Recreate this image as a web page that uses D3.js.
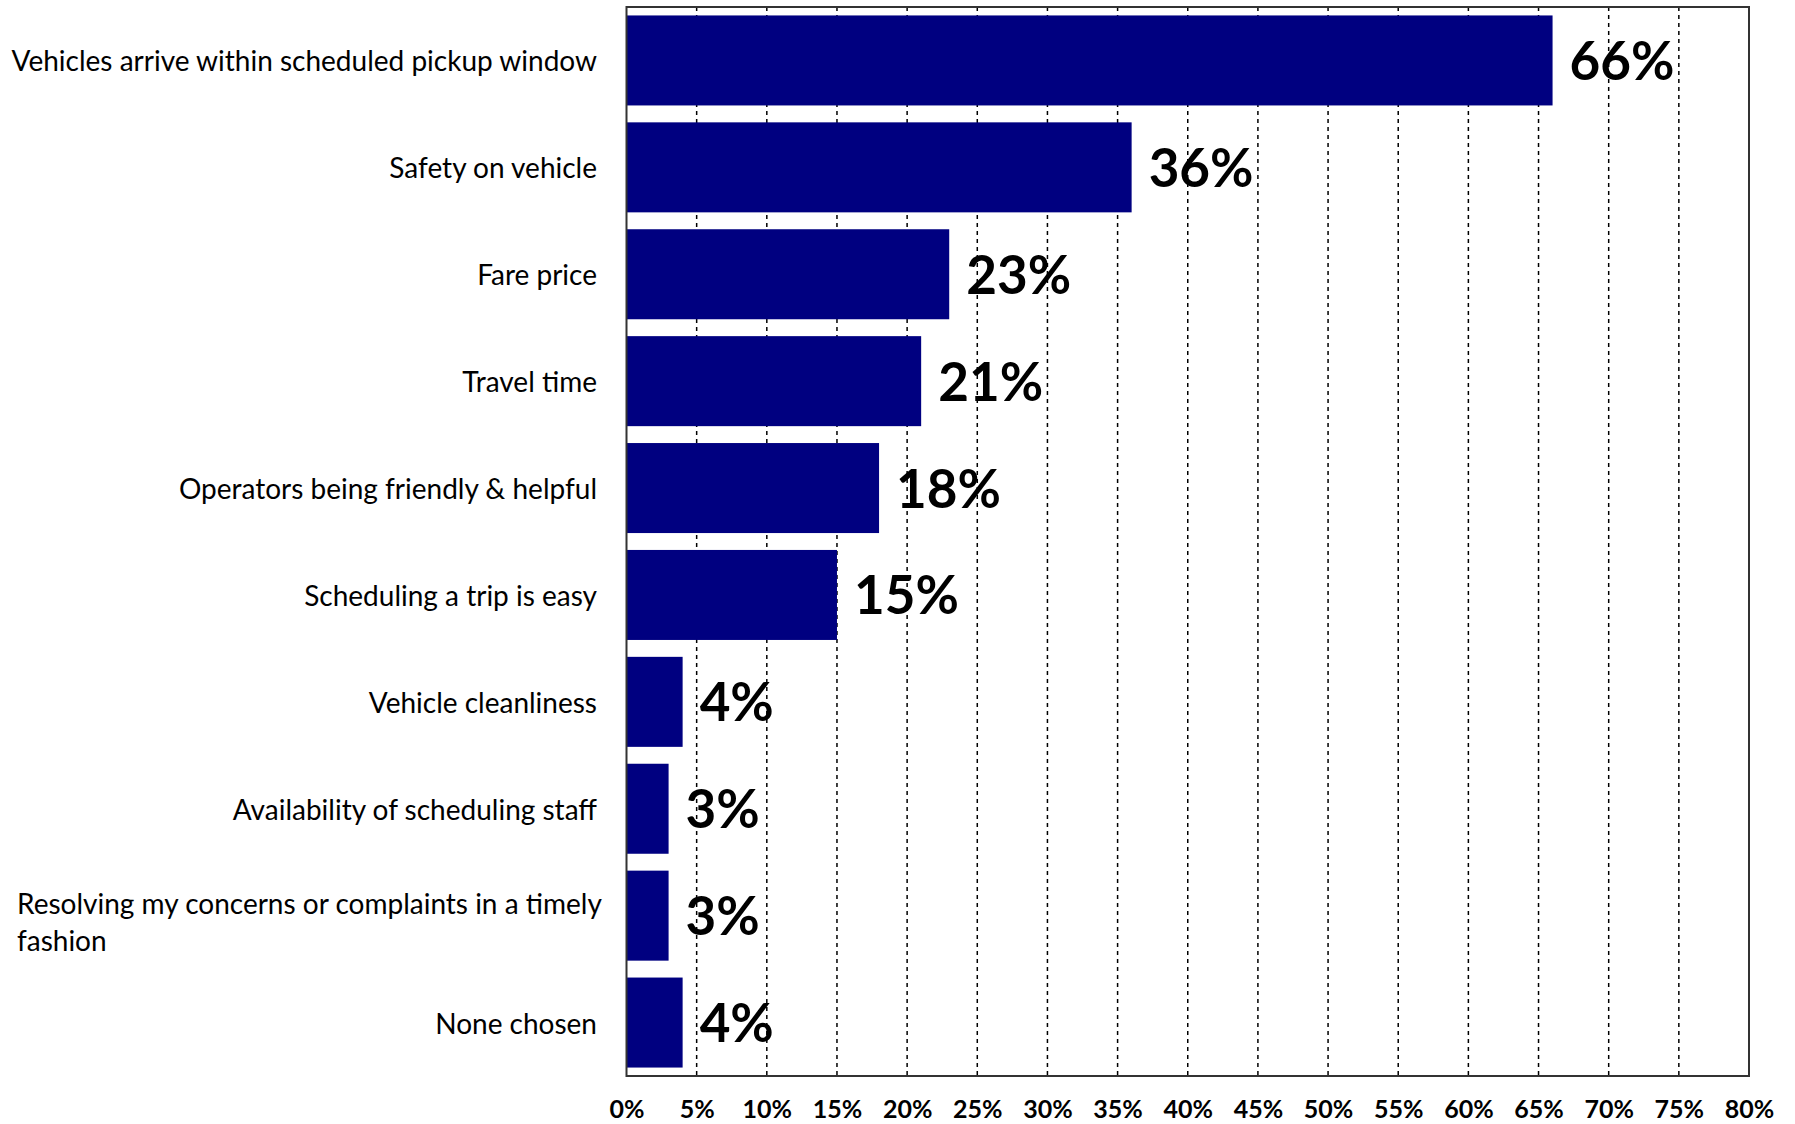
<!DOCTYPE html>
<html>
<head>
<meta charset="utf-8">
<script src="https://cdn.jsdelivr.net/npm/d3@7"></script>
<style>
  html, body { margin: 0; padding: 0; background: #ffffff; }
  svg { display: block; }
  text { font-family: Lato, "Open Sans", "Noto Sans", sans-serif; fill: #000; }
</style>
</head>
<body>
<svg id="chart" width="1795" height="1124"></svg>
<script>
// Service attributes ranked as most important
const categories = [
  "Vehicles arrive within scheduled pickup window",
  "Safety on vehicle",
  "Fare price",
  "Travel time",
  "Operators being friendly & helpful",
  "Scheduling a trip is easy",
  "Vehicle cleanliness",
  "Availability of scheduling staff",
  "Resolving my concerns or complaints in a timely fashion",
  "None chosen"
];
const shares = [0.66, 0.36, 0.23, 0.21, 0.18, 0.15, 0.04, 0.03, 0.03, 0.04];
const xTicks = [0, 0.05, 0.10, 0.15, 0.20, 0.25, 0.30, 0.35, 0.40, 0.45, 0.50, 0.55, 0.60, 0.65, 0.70, 0.75, 0.80];

const data = categories.map((c, i) => ({ category: c, value: shares[i] }));

const svg = d3.select("#chart");
const plot = { left: 626.5, right: 1749, top: 7, bottom: 1076 };

const x = d3.scaleLinear().domain([0, 0.80]).range([plot.left, plot.right]);
const y = d3.scaleBand()
  .domain(categories)
  .range([plot.top, plot.bottom])
  .paddingInner(0.158)
  .paddingOuter(0.079);

const pct = d3.format(".0%");

// dashed vertical gridlines
svg.append("g")
  .selectAll("line")
  .data(xTicks.filter(t => t > 0 && t < 0.80))
  .join("line")
  .attr("x1", d => x(d)).attr("x2", d => x(d))
  .attr("y1", plot.top).attr("y2", plot.bottom)
  .attr("stroke", "#000")
  .attr("stroke-width", 1.5)
  .attr("stroke-dasharray", "4,4");

// bars
svg.append("g")
  .selectAll("rect")
  .data(data)
  .join("rect")
  .attr("x", x(0))
  .attr("y", d => y(d.category))
  .attr("width", d => x(d.value) - x(0))
  .attr("height", y.bandwidth())
  .attr("fill", "#000080");

// plot frame
svg.append("rect")
  .attr("x", plot.left).attr("y", plot.top)
  .attr("width", plot.right - plot.left)
  .attr("height", plot.bottom - plot.top)
  .attr("fill", "none")
  .attr("stroke", "#333")
  .attr("stroke-width", 2);

// value labels
svg.append("g")
  .selectAll("text")
  .data(data)
  .join("text")
  .attr("x", d => x(d.value) + 17)
  .attr("y", d => y(d.category) + y.bandwidth() / 2 - 1)
  .attr("dominant-baseline", "central")
  .attr("font-size", 53)
  .attr("font-weight", 700)
  .text(d => pct(d.value));

// x axis tick labels
const xAxis = d3.axisBottom(x)
  .tickValues(xTicks)
  .tickFormat(pct)
  .tickSize(0)
  .tickPadding(24);
const gx = svg.append("g")
  .attr("transform", `translate(0,${plot.bottom})`)
  .call(xAxis);
gx.select(".domain").remove();
gx.selectAll("text")
  .attr("font-family", "Lato, sans-serif")
  .attr("font-size", 25)
  .attr("font-weight", 700)
  .attr("fill", "#000");

// category labels; long ones wrap into a left-aligned block
const labelRight = 597;
const labelLeft = 17;
const maxLine = 595;
const lineGap = 37;
const catG = svg.append("g").attr("font-size", 28);

data.forEach(d => {
  const cy = y(d.category) + y.bandwidth() / 2;
  const probe = catG.append("text").text(d.category);
  const w = probe.node().getComputedTextLength();
  if (w <= maxLine) {
    probe.attr("x", labelRight).attr("y", cy)
      .attr("text-anchor", "end")
      .attr("dominant-baseline", "central");
    return;
  }
  probe.remove();
  const words = d.category.split(" ");
  const lines = [];
  let cur = "";
  const meas = catG.append("text");
  words.forEach(wd => {
    const test = cur ? cur + " " + wd : wd;
    meas.text(test);
    if (meas.node().getComputedTextLength() > maxLine && cur) {
      lines.push(cur);
      cur = wd;
    } else {
      cur = test;
    }
  });
  lines.push(cur);
  meas.remove();
  const t = catG.append("text")
    .attr("x", labelLeft)
    .attr("dominant-baseline", "central");
  lines.forEach((ln, i) => {
    t.append("tspan")
      .attr("x", labelLeft)
      .attr("y", cy + 6 + (i - (lines.length - 1) / 2) * lineGap)
      .text(ln);
  });
});
</script>
</body>
</html>
